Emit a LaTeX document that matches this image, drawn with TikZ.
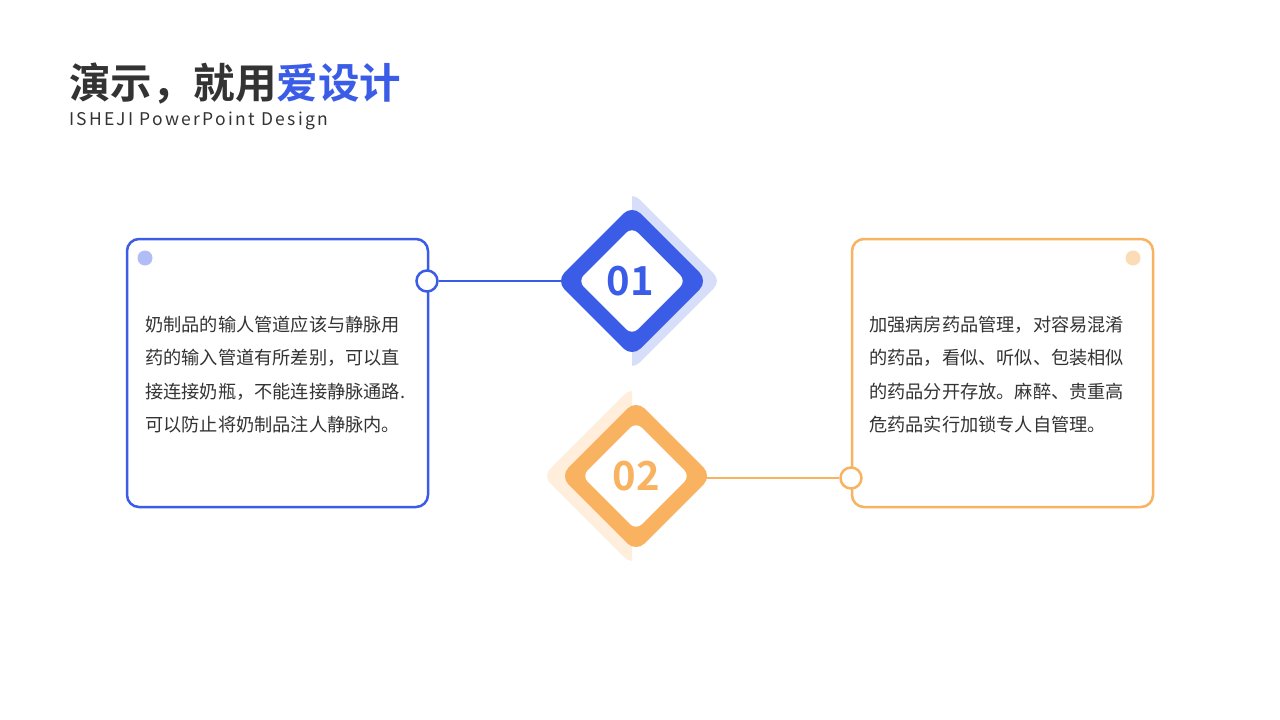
\documentclass[tikz,border=0pt]{standalone}
\usepackage{fontspec}
\setmainfont{Noto Sans CJK SC}
\newfontfamily\cjkb{Noto Sans CJK SC Bold}
\newfontfamily\cjk{Noto Sans CJK SC}
\definecolor{cblue}{HTML}{3A5CE6}
\definecolor{lblue}{HTML}{D6DEFA}
\definecolor{corange}{HTML}{F9B260}
\definecolor{lorange}{HTML}{FEEEDB}
\definecolor{tgray}{HTML}{333333}
\begin{document}
\begin{tikzpicture}[x=1pt,y=-1pt,
  body/.style={anchor=west,font=\cjk\fontsize{18.2}{20}\selectfont,text=tgray,inner sep=0},
  box/.style={line width=2.5pt,rounded corners=12pt,fill=white}]
\useasboundingbox (0,0) rectangle (1280,720);
\fill[white] (0,0) rectangle (1280,720);
\node[anchor=west,inner sep=0,font=\cjkb\fontsize{41.5}{44}\selectfont,text=tgray] (t) at (69,84) {演示，就用\textcolor{cblue}{爱设计}};
\node[anchor=west,inner sep=0,font=\cjk\fontsize{17.5}{20}\selectfont,text=tgray] (s) at (69,121) {\addfontfeatures{LetterSpace=13}ISHEJI PowerPoint Design};
% light halves
\begin{scope}
\clip (632,150) rectangle (760,400);
\fill[lblue,rounded corners=10pt] (632,192) -- (721,281) -- (632,370) -- (543,281) -- cycle;
\end{scope}
\begin{scope}
\clip (500,380) rectangle (632,580);
\fill[lorange,rounded corners=10pt] (632,387) -- (721,476) -- (632,565) -- (543,476) -- cycle;
\end{scope}
% boxes
\draw[box,draw=cblue] (127,239) rectangle (428,507);
\draw[box,draw=corange] (852,239) rectangle (1153,507);
\fill[cblue!40] (145,258) circle (7.5);
\fill[corange!45] (1133,258) circle (7.5);
% diamonds
\fill[cblue,rounded corners=12pt] (632,205) -- (708,281) -- (632,357) -- (556,281) -- cycle;
\fill[white,rounded corners=8pt] (632,227) -- (686,281) -- (632,335) -- (578,281) -- cycle;
\node[font=\cjkb\fontsize{40}{42}\selectfont,text=cblue] (n1) at (630,281) {01};
\fill[corange,rounded corners=12pt] (636,400) -- (712,476) -- (636,552) -- (560,476) -- cycle;
\fill[white,rounded corners=8pt] (636,422) -- (690,476) -- (636,530) -- (582,476) -- cycle;
\node[font=\cjkb\fontsize{40}{42}\selectfont,text=corange] (n2) at (636,476) {02};
% connectors
\node[circle,draw=cblue,line width=2.5pt,fill=white,minimum size=21pt,inner sep=0] (c1) at (427,281) {};
\coordinate (d1) at (561,281);
\draw[cblue,line width=2.5pt] (c1) -- (d1);
\node[circle,draw=corange,line width=2.5pt,fill=white,minimum size=21pt,inner sep=0] (c2) at (851,478) {};
\coordinate (d2) at (705,478);
\draw[corange,line width=2.5pt] (d2) -- (c2);
% texts
\node[body] (l1) at (145,325) {奶制品的输人管道应该与静脉用};
\node[body] (l2) at (145,358) {药的输入管道有所差别，可以直};
\node[body] (l3) at (145,392) {接连接奶瓶，不能连接静脉通路.};
\node[body] (l4) at (145,425) {可以防止将奶制品注人静脉内。};
\node[body] (r1) at (869,325) {加强病房药品管理，对容易混淆};
\node[body] (r2) at (869,358) {的药品，看似、听似、包装相似};
\node[body] (r3) at (869,392) {的药品分开存放。麻醉、贵重高};
\node[body] (r4) at (869,425) {危药品实行加锁专人自管理。};
\end{tikzpicture}
\end{document}
